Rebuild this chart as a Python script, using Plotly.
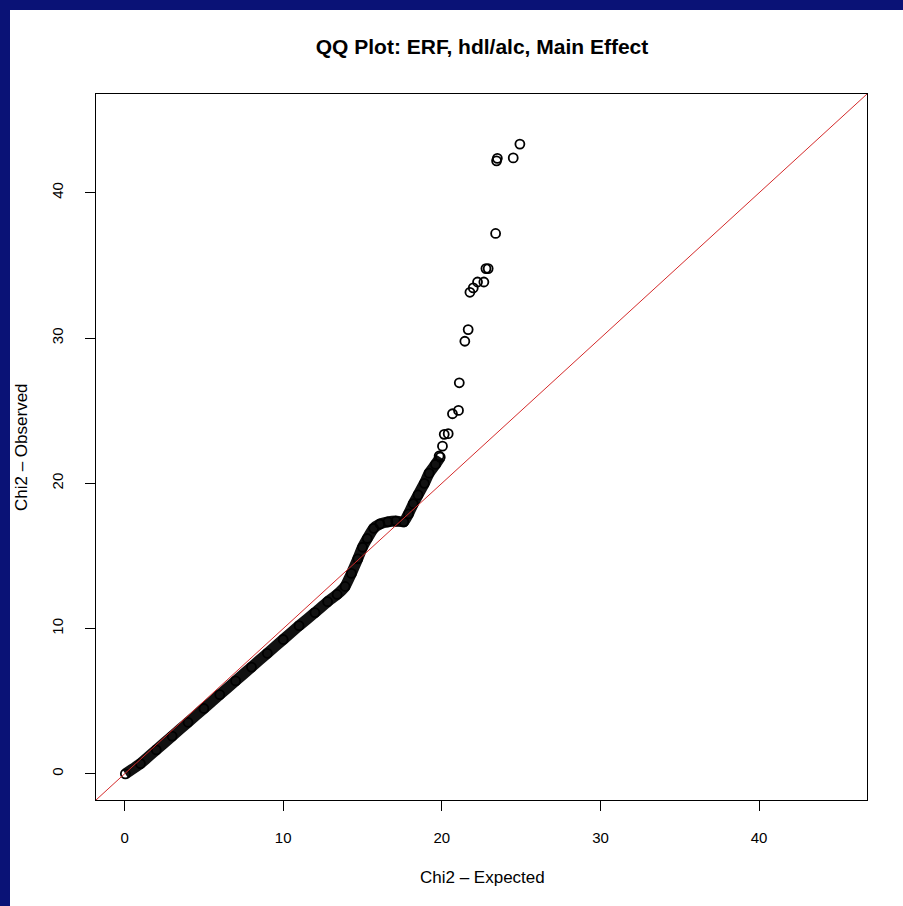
import plotly.graph_objects as go

# ---- data ----
# dense part of the QQ curve (overlapping points form a thick band)
band_expected = [0.05, 1, 2, 3, 4, 5, 6, 7, 8, 9, 10, 11, 12, 12.8, 13.4, 13.9, 14.3,
                 14.7, 15.0, 15.3, 15.7, 16.1, 16.6, 17.1, 17.6, 17.9, 18.2, 18.5,
                 18.9, 19.2, 19.6, 19.9]
band_observed = [0.0, 0.7, 1.65, 2.6, 3.55, 4.5, 5.45, 6.4, 7.35, 8.3, 9.25, 10.2,
                 11.1, 11.85, 12.35, 12.9, 13.8, 14.8, 15.6, 16.2, 16.9, 17.2, 17.35,
                 17.4, 17.35, 17.9, 18.6, 19.2, 20.0, 20.7, 21.3, 21.8]
# sparse upper tail (individual points)
tail_expected = [19.83, 20.04, 20.15, 20.40, 20.67, 21.05, 21.10, 21.45, 21.66, 21.77,
                 21.98, 22.25, 22.65, 22.78, 22.92, 23.39, 23.45, 23.50, 24.50, 24.92]
tail_observed = [21.88, 22.56, 23.37, 23.42, 24.79, 25.02, 26.92, 29.78, 30.58, 33.15,
                 33.45, 33.86, 33.86, 34.78, 34.78, 37.20, 42.20, 42.37, 42.40, 43.35]
tick_vals = [0, 10, 20, 30, 40]
axis_range = [-1.8, 46.8]
ref_intercept, ref_slope = 0, 1

title_text = "QQ Plot: ERF, hdl/alc, Main Effect"
x_title = "Chi2 \u2013 Expected"
y_title = "Chi2 \u2013 Observed"

# ---- layout geometry ----
W, H = 903, 906
ML, MR, MT, MB = 96, 36, 94, 106
PW, PH = W - ML - MR, H - MT - MB
NAVY = "#0a1276"
FONT = "Liberation Sans, Arial, sans-serif"

def px_to_paper_x(px):
    return (px - ML) / PW

def px_to_paper_y(py):
    return (H - MB - py) / PH

fig = go.Figure()

fig.add_trace(go.Scatter(
    x=band_expected, y=band_observed, mode="lines",
    line=dict(color="#111111", width=11, shape="spline", smoothing=0.4),
    hoverinfo="skip", showlegend=False))
fig.add_trace(go.Scatter(
    x=band_expected, y=band_observed, mode="markers",
    marker=dict(symbol="circle-open", size=9, color="black", line=dict(width=1.8)),
    showlegend=False))
fig.add_trace(go.Scatter(
    x=tail_expected, y=tail_observed, mode="markers",
    marker=dict(symbol="circle-open", size=9, color="black", line=dict(width=1.8)),
    showlegend=False))
# reference line y = x (abline), across the full axis range
fig.add_trace(go.Scatter(
    x=axis_range, y=[ref_intercept + ref_slope * v for v in axis_range],
    mode="lines", line=dict(color="#d42a2a", width=1), showlegend=False,
    hoverinfo="skip"))

axis_common = dict(
    range=axis_range, tickvals=tick_vals, ticks="outside", ticklen=10,
    tickwidth=1, tickcolor="black", showline=True, linecolor="black",
    linewidth=1, mirror=True, showgrid=False, zeroline=False,
    tickfont=dict(family=FONT, size=15, color="black"))

fig.update_layout(
    width=W, height=H, margin=dict(l=ML, r=MR, t=MT, b=MB),
    paper_bgcolor="white", plot_bgcolor="white",
    xaxis=dict(**axis_common, ticklabelstandoff=14),
    yaxis=dict(**axis_common, tickangle=-90, ticklabelstandoff=16),
    title=dict(text="<b>" + title_text + "</b>", x=px_to_paper_x(482), xref="paper",
               xanchor="center", y=1 - 47 / H, yanchor="middle",
               font=dict(family=FONT, size=21, color="black")),
    annotations=[
        dict(text=x_title, x=px_to_paper_x(482), y=px_to_paper_y(877),
             xref="paper", yref="paper", showarrow=False, xanchor="center",
             yanchor="middle", font=dict(family=FONT, size=17, color="black")),
        dict(text=y_title, x=px_to_paper_x(21), y=px_to_paper_y(447),
             xref="paper", yref="paper", showarrow=False, xanchor="center",
             yanchor="middle", textangle=-90,
             font=dict(family=FONT, size=17, color="black")),
    ],
    shapes=[
        dict(type="rect", xref="paper", yref="paper",
             x0=px_to_paper_x(0), x1=px_to_paper_x(10),
             y0=px_to_paper_y(H), y1=px_to_paper_y(0),
             fillcolor=NAVY, line=dict(width=0), layer="below"),
        dict(type="rect", xref="paper", yref="paper",
             x0=px_to_paper_x(0), x1=px_to_paper_x(W),
             y0=px_to_paper_y(10), y1=px_to_paper_y(0),
             fillcolor=NAVY, line=dict(width=0), layer="below"),
    ],
)

fig.write_html("out.html",
               config={"displayModeBar": False},
               post_script="document.body.style.margin='0';"
                           "document.body.style.overflow='hidden';")
